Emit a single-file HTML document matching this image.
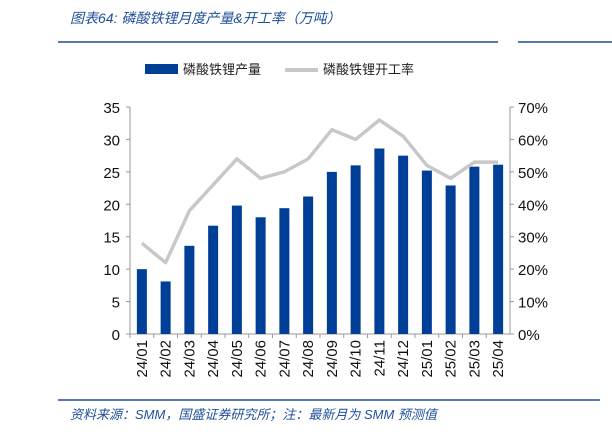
<!DOCTYPE html>
<html><head><meta charset="utf-8"><style>
body{margin:0;width:612px;height:433px;background:#fff;overflow:hidden;font-family:"Liberation Sans","Noto Sans CJK SC",sans-serif;}
</style></head><body>
<svg width="612" height="433" xmlns="http://www.w3.org/2000/svg">
<text x="70" y="23" font-size="14" font-style="italic" fill="#1f4e9a" font-family="Liberation Sans,Noto Sans CJK SC,sans-serif">图表64:  磷酸铁锂月度产量&amp;开工率（万吨）</text>
<line x1="58" y1="42" x2="498" y2="42" stroke="#1f4e9a" stroke-width="1.5"/>
<line x1="518" y1="42" x2="612" y2="42" stroke="#1f4e9a" stroke-width="1.5"/>
<rect x="145" y="64" width="33" height="10" fill="#003f98"/>
<text x="183" y="74" font-size="13" fill="#222">磷酸铁锂产量</text>
<line x1="285" y1="70" x2="318" y2="70" stroke="#c8c8c8" stroke-width="4"/>
<text x="323" y="74" font-size="13" fill="#222">磷酸铁锂开工率</text>
<g id="plot"></g>
<line x1="58" y1="400" x2="600" y2="400" stroke="#1f4e9a" stroke-width="1.5"/>
<text x="70" y="419" font-size="13" font-style="italic" fill="#1f4e9a">资料来源：SMM，国盛证券研究所；注：最新月为 SMM 预测值</text>
</svg>
<script>
const categories=["24/01","24/02","24/03","24/04","24/05","24/06","24/07","24/08","24/09","24/10","24/11","24/12","25/01","25/02","25/03","25/04"];
const production=[10,8.1,13.6,16.7,19.8,18,19.4,21.2,25,26,28.6,27.5,25.2,22.9,25.8,26.1];
const utilization=[28,22,38,46,54,48,50,54,63,60,66,61,52,48,53,53];
const leftTicks=[0,5,10,15,20,25,30,35];
const rightTicks=[0,10,20,30,40,50,60,70];
const NS="http://www.w3.org/2000/svg";
const g=document.getElementById('plot');
const L=130,R=510,T=107,B=334;
const step=(R-L)/categories.length;
const xc=i=>L+step*(i+0.5);
const yl=v=>B-(v/35)*(B-T);
const yr=v=>B-(v/70)*(B-T);
function mk(t,a){const e=document.createElementNS(NS,t);for(const k in a)e.setAttribute(k,a[k]);g.appendChild(e);return e;}
let e;
e=mk('path',{d:`M${L},${T}V${B}H${R}V${T}`,fill:'none',stroke:'#999','stroke-width':1});


leftTicks.forEach(v=>{
 e=mk('line',{x1:L-4,x2:L,y1:yl(v),y2:yl(v),stroke:'#999'});
 
 
 e=mk('text',{x:L-10,y:yl(v)+6,'font-size':15,'text-anchor':'end',fill:'#111'});e.textContent=v;
 
 
});
rightTicks.forEach(v=>{
 e=mk('line',{x1:R,x2:R+4,y1:yr(v),y2:yr(v),stroke:'#999'});
 
 
 e=mk('text',{x:R+8,y:yr(v)+6,'font-size':15,fill:'#111'});e.textContent=v+'%';
 
 
});
categories.forEach((c,i)=>{
 e=mk('line',{x1:L+step*i,x2:L+step*i,y1:B,y2:B+4,stroke:'#999'});
 
 
 e=mk('rect',{x:xc(i)-5,y:yl(production[i]),width:10,height:B-yl(production[i]),fill:'#003f98'});
 
 
 e=mk('text',{x:0,y:0,'font-size':15,'text-anchor':'end',fill:'#111',transform:`translate(${xc(i)+5},${B+6}) rotate(-90)`});e.textContent=c;
 
 
});
e=mk('polyline',{points:utilization.map((v,i)=>xc(i)+','+yr(v)).join(' '),fill:'none',stroke:'#c8c8c8','stroke-width':3.5,'stroke-linejoin':'round'});


</script>
</body></html>
